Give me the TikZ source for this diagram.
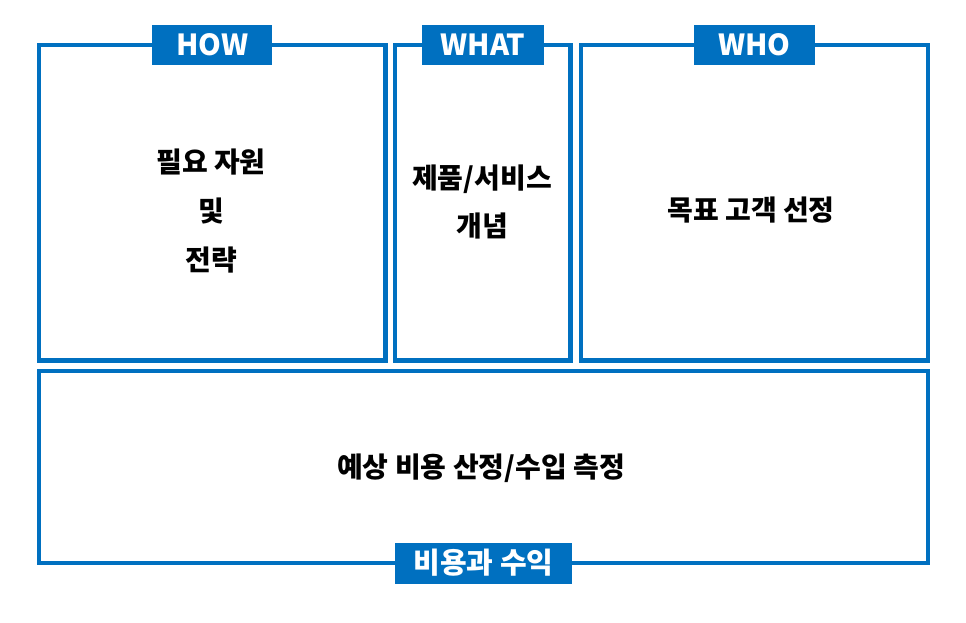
\documentclass[tikz,border=0pt]{standalone}
\usepackage{fontspec}
\setmainfont{Noto Sans CJK KR}
\definecolor{bizblue}{HTML}{0070C0}
\tikzset{
  panel/.style={draw=bizblue, line width=4.3pt, outer sep=0pt},
  tab/.style={fill=bizblue, text=white, inner sep=0pt, minimum height=40pt,
    font=\fontsize{29}{29}\selectfont\bfseries},
  idea/.style={align=center, font=\fontsize{28}{49}\selectfont\bfseries}
}
\begin{document}
\begin{tikzpicture}[x=1pt,y=-1pt]
\useasboundingbox (0,0) rectangle (966,622);
% the four panels
\node [panel, minimum width=346.5pt, minimum height=315.5pt] (how) at (212.25,202.75) {};
\node [panel, minimum width=175.2pt, minimum height=315.5pt] (what) at (482.9,202.75) {};
\node [panel, minimum width=347.3pt, minimum height=315.5pt] (who) at (754.35,202.75) {};
\node [panel, minimum width=889pt, minimum height=192pt] (cost) at (483.5,467) {};
% headings on the frames
\node [tab, minimum width=120pt] (howtab) at (how.north) {HOW};
\node [tab, minimum width=122.4pt] (whattab) at (what.north) {WHAT};
\node [tab, minimum width=121pt] (whotab) at (who.north) {WHO};
\node [tab, minimum width=177pt, minimum height=41pt] (costtab) at (cost.south) {비용과 수익};
% contents
\node [idea] (howtext) at (211,211) {필요 자원\\및\\전략};
\node [idea, font=\fontsize{28}{48}\selectfont\bfseries] (whattext) at (482,202) {제품/서비스\\개념};
\node [idea] (whotext) at (751,210) {목표 고객 선정};
\node [idea] (costtext) at (481,468) {예상 비용 산정/수입 측정};
\end{tikzpicture}
\end{document}
